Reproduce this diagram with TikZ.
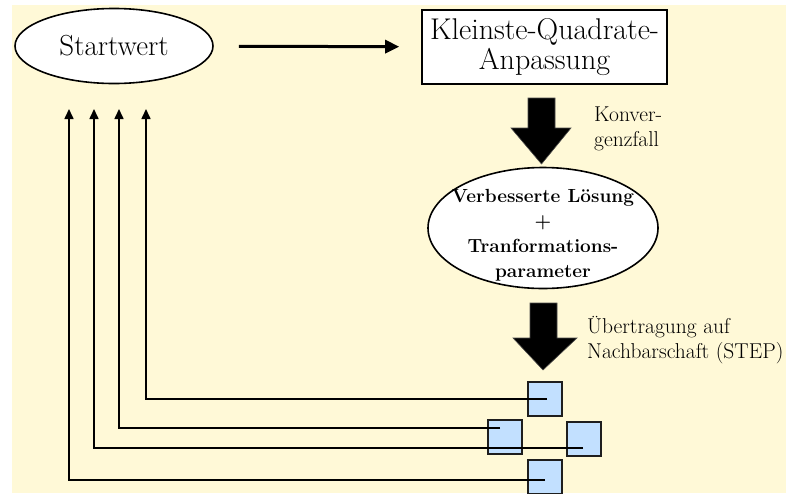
\documentclass[tikz,border=0pt]{standalone}
\usepackage{fontspec}
\usetikzlibrary{shapes.geometric,arrows.meta,calc}
\definecolor{paper}{RGB}{255,249,215}
\definecolor{cell}{RGB}{194,224,255}
\definecolor{edge}{RGB}{30,30,30}
\tikzset{
  outline/.style={draw=black, line width=1.6pt, fill=white},
  bigtext/.style={font=\fontsize{30}{30}\selectfont},
  sidetext/.style={font=\fontsize{21.5}{25}\selectfont, align=left, anchor=west, inner sep=0pt},
  cellbox/.style={draw=edge, line width=1.8pt, fill=cell, minimum width=34pt, minimum height=34pt, inner sep=0pt},
  feedback/.style={line width=1.6pt, -{Triangle[length=10pt,width=9pt]}},
  fat/.style={fill=black, draw=black!70, line width=0.6pt}
}
\begin{document}
\begin{tikzpicture}[x=1pt,y=-1pt]
\useasboundingbox (0,0) rectangle (786,493);
\fill[paper] (12,5) rectangle (786,493);

% top row: start value and least-squares fit
\node[outline, ellipse, minimum width=198pt, minimum height=75pt, font=\fontsize{29}{30}\selectfont, inner sep=0pt] (start) at (114,46) {Startwert};
\node[outline, rectangle, minimum width=245pt, minimum height=74pt, bigtext, align=center, inner sep=0pt] (quad) at (544.5,47) {Kleinste-Quadrate-\\Anpassung};
\draw[line width=3pt, -{Triangle[length=14pt,width=13pt]}, shorten <=25pt, shorten >=22pt] (start) -- (quad);

% improved solution
\node[outline, ellipse, minimum width=230pt, minimum height=121pt] (sol) at (543,228) {};
\node[font=\bfseries\fontsize{19}{25}\selectfont, align=center, inner sep=0pt] (soltext) at (543,235.5)
  {Verbesserte Lösung\\+\\Tranformations-\\parameter};

% thick arrows
\fill[fat] (528,98) -- (555,98) -- (555,128) -- (571,128) -- (541.5,164) -- (511,128) -- (528,128) -- cycle;
\node[sidetext] (konv) at (594,129) {Konver-\\genzfall};

\fill[fat] (530,303) -- (557,303) -- (557,338) -- (577,338) -- (543,370) -- (513,338) -- (530,338) -- cycle;
\node[sidetext] (step) at (587,340) {Übertragung auf\\Nachbarschaft (STEP)};

% neighbourhood cells
\node[cellbox] (cN) at (545,399) {};
\node[cellbox] (cW) at (505,437) {};
\node[cellbox] (cE) at (584,439) {};
\node[cellbox] (cS) at (545,477) {};

% feedback arrows back to the start value
\coordinate (t1) at (146,109);
\coordinate (t2) at (119,109);
\coordinate (t3) at (94,109);
\coordinate (t4) at (69,109);
\draw[feedback] ($(cN.center)+(2,0)$) -| (t1);
\draw[feedback] ($(cW.center)+(-5,-9)$) -| (t2);
\draw[feedback] ($(cE.center)+(-1,9)$) -| (t3);
\draw[feedback] ($(cS.center)+(0,3)$) -| (t4);
\end{tikzpicture}
\end{document}
